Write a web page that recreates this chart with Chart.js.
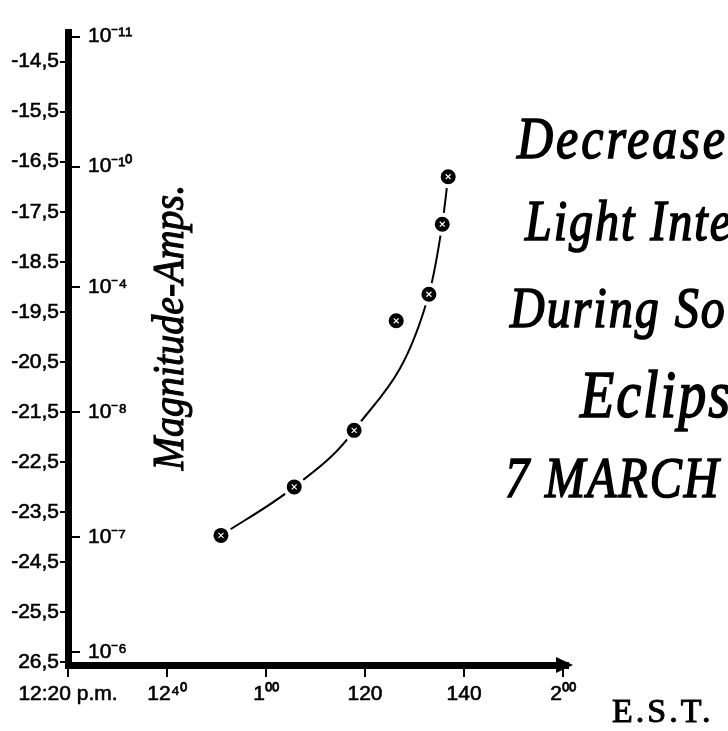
<!DOCTYPE html>
<html>
<head>
<meta charset="utf-8">
<script src="https://cdn.jsdelivr.net/npm/chart.js@4.4.1/dist/chart.umd.min.js"></script>
<style>
html,body{margin:0;padding:0;background:#fff;}
#wrap{width:728px;height:731px;position:relative;}
</style>
</head>
<body>
<div id="wrap"><canvas id="c" width="728" height="731"></canvas></div>
<script>
// ---- data ----
// time: minutes after 12:00 noon (E.S.T.)
const timeMinutes = [50.9, 65.7, 77.8, 86.3, 92.9, 95.6, 96.8];
// magnitude of the light reading
const magnitude   = [-23.97, -23.00, -21.87, -19.68, -19.15, -17.75, -16.80];
// which readings the hand-drawn smooth curve passes through
const onCurve     = [true, true, true, false, true, true, true];

const magTickValues = [-14.5, -15.5, -16.5, -17.5, -18.5, -19.5, -20.5, -21.5, -22.5, -23.5, -24.5, -25.5, -26.5];
const magTickLabels = ['-14,5', '-15,5', '-16,5', '-17,5', '-18.5', '-19,5', '-20,5', '-21,5', '-22,5', '-23,5', '-24,5', '-25,5', '26,5'];

const ampTickValues = [-14.0, -16.6, -19.0, -21.5, -24.0, -26.3];
const ampTickLabels = ['10⁻¹¹', '10⁻¹⁰', '10⁻⁴', '10⁻⁸', '10⁻⁷', '10⁻⁶'];

const timeTickValues = [20, 40, 60, 80, 100, 120];
const timeTickLabels = ['12:20 p.m.', '12⁴⁰', '1⁰⁰', '120', '140', '2⁰⁰'];

const yTitle = 'Magnitude-Amps.';
const xUnit = 'E.S.T.';
const titleLines = ['Decrease in', 'Light Intensity', 'During Solar', 'Eclipse', '7 MARCH 1970'];

// ---- build datasets ----
const allPoints = timeMinutes.map((t, i) => ({x: t, y: magnitude[i]}));
const curvePoints = allPoints.filter((p, i) => onCurve[i]);

const decorations = {
  id: 'decorations',
  afterDraw(chart) {
    const ctx = chart.ctx;
    const ca = chart.chartArea;
    ctx.save();
    ctx.fillStyle = '#000';
    ctx.strokeStyle = '#000';
    // arrow head on the time axis
    ctx.beginPath();
    ctx.moveTo(ca.right + 5, ca.bottom);
    ctx.lineTo(ca.right - 12, ca.bottom - 8);
    ctx.lineTo(ca.right - 12, ca.bottom + 8);
    ctx.closePath();
    ctx.fill();

    // E.S.T. unit label
    ctx.font = '34px "Liberation Serif"';
    ctx.letterSpacing = '3px';
    ctx.textAlign = 'left';
    ctx.textBaseline = 'alphabetic';
    ctx.lineWidth = 1;
    ctx.fillText(xUnit, ca.right + 44, ca.bottom + 57);
    ctx.strokeText(xUnit, ca.right + 44, ca.bottom + 57);

    // vertical axis title
    ctx.save();
    ctx.translate(ca.left + 115, ca.top + 295);
    ctx.rotate(-Math.PI / 2);
    ctx.scale(1, 1.12);
    ctx.font = 'italic 40px "Liberation Serif"';
    ctx.letterSpacing = '0px';
    ctx.textAlign = 'center';
    ctx.lineWidth = 1;
    ctx.fillText(yTitle, 0, 0);
    ctx.strokeText(yTitle, 0, 0);
    ctx.restore();

    // chart title, clipped by the right edge as in the original
    const starts = [517, 525, 510, 580, 505];
    const bases = [158, 240, 327, 417, 497];
    const sizes = [50, 48, 48, 56, 48];
    const spacing = [3, 2, 2, 2, 2];
    titleLines.forEach((line, i) => {
      ctx.save();
      ctx.translate(starts[i], bases[i]);
      ctx.scale(1, 1.2);
      ctx.font = 'italic ' + sizes[i] + 'px "Liberation Serif"';
      ctx.letterSpacing = spacing[i] + 'px';
      ctx.textAlign = 'left';
      ctx.lineWidth = 1.4;
      ctx.fillText(line, 0, 0);
      ctx.strokeText(line, 0, 0);
      ctx.restore();
    });
    ctx.restore();
  }
};

const tickFont = {family: '"Liberation Sans"', size: 21};

new Chart(document.getElementById('c'), {
  type: 'scatter',
  data: {
    datasets: [
      {
        label: 'marker cross',
        data: allPoints,
        pointStyle: 'crossRot',
        pointRadius: 3.5,
        borderColor: '#fff',
        borderWidth: 1.2,
        backgroundColor: '#fff',
        showLine: false,
        order: 0
      },
      {
        label: 'readings',
        data: allPoints,
        pointStyle: 'circle',
        pointRadius: 9.5,
        backgroundColor: '#000',
        borderColor: '#fff',
        borderWidth: 4,
        showLine: false,
        order: 1
      },
      {
        label: 'curve',
        data: curvePoints,
        showLine: true,
        pointRadius: 0,
        borderColor: '#000',
        borderWidth: 2,
        cubicInterpolationMode: 'monotone',
        fill: false,
        order: 2
      }
    ]
  },
  options: {
    responsive: false,
    animation: false,
    events: [],
    layout: {padding: {top: 15, right: 160, left: 0, bottom: 0}},
    plugins: {legend: {display: false}, tooltip: {enabled: false}, title: {display: false}},
    scales: {
      x: {
        type: 'linear',
        position: 'bottom',
        min: 20,
        max: 121,
        afterFit(s) { s.height = 66; },
        afterBuildTicks(s) { s.ticks = timeTickValues.map(v => ({value: v})); },
        border: {display: true, color: '#000', width: 7},
        grid: {drawOnChartArea: false, drawTicks: true, tickLength: 12, color: '#000', lineWidth: 2},
        ticks: {
          color: '#000',
          font: tickFont,
          textStrokeColor: '#000',
          textStrokeWidth: 0.6,
          padding: 5,
          maxRotation: 0,
          autoSkip: false,
          callback: (v, i) => timeTickLabels[i]
        }
      },
      y: {
        type: 'linear',
        position: 'left',
        weight: 1,
        min: -26.56,
        max: -13.92,
        afterFit(s) { s.width = 68; },
        afterBuildTicks(s) { s.ticks = magTickValues.map(v => ({value: v})); },
        border: {display: true, color: '#000', width: 7},
        grid: {drawOnChartArea: false, drawTicks: true, tickLength: 8, color: '#000', lineWidth: 2},
        ticks: {
          color: '#000',
          font: tickFont,
          textStrokeColor: '#000',
          textStrokeWidth: 0.6,
          padding: 1,
          autoSkip: false,
          callback: (v, i) => magTickLabels[i]
        }
      },
      amps: {
        type: 'linear',
        position: 'left',
        weight: 0,
        min: -26.56,
        max: -13.92,
        afterFit(s) { s.width = 0; },
        afterBuildTicks(s) { s.ticks = ampTickValues.map(v => ({value: v})); },
        border: {display: false},
        grid: {drawOnChartArea: false, drawTicks: true, tickLength: -12, color: '#000', lineWidth: 2},
        ticks: {
          mirror: true,
          color: '#000',
          font: tickFont,
          textStrokeColor: '#000',
          textStrokeWidth: 0.6,
          padding: 20,
          autoSkip: false,
          callback: (v, i) => ampTickLabels[i]
        }
      }
    }
  },
  plugins: [decorations]
});
</script>
</body>
</html>
